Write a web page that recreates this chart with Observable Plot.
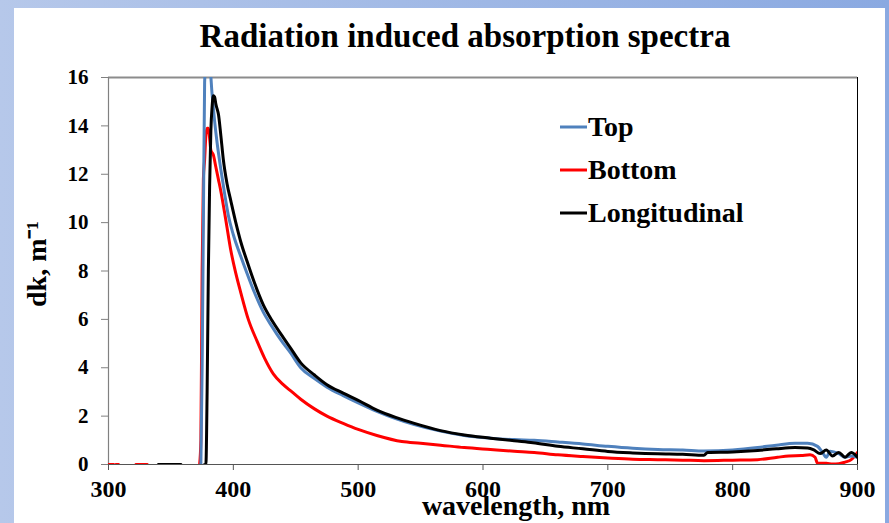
<!DOCTYPE html>
<html>
<head>
<meta charset="utf-8">
<script src="https://cdn.jsdelivr.net/npm/d3@7"></script>
<script src="https://cdn.jsdelivr.net/npm/@observablehq/plot@0.6"></script>
<style>
  html, body { margin: 0; padding: 0; }
  body { width: 889px; height: 523px; overflow: hidden; }
  #slide {
    position: relative; width: 889px; height: 523px;
    background: linear-gradient(to right, #b6c8ea, #8aa9e1);
    font-family: "Liberation Serif", "Times New Roman", serif;
    color: #000;
  }
  #panel { position: absolute; left: 14px; top: 8px; right: 4px; bottom: 0; background: #fff; }
  #title {
    position: absolute; left: 0; width: 930px; top: 18px; text-align: center;
    font-size: 33px; font-weight: bold; white-space: nowrap;
  }
  #chart { position: absolute; left: 0; top: 0; }
  #legend { position: absolute; left: 560px; top: 0; }
  .row { position: absolute; left: 0; height: 30px; display: flex; align-items: center; white-space: nowrap;
         font-size: 28px; font-weight: bold; }
  .row svg { margin-right: 1px; }
</style>
</head>
<body>
<div id="slide">
  <div id="panel"></div>
  <div id="title">Radiation induced absorption spectra</div>
  <div id="chart"></div>
  <div id="legend"></div>
</div>
<script>
// Induced absorption dk (m^-1) against wavelength (nm); null marks a gap in the record.
const topNm = [374, 375, 376, 377, 378, 381, 383, 385, 387, 390, 393, 396, 400, 406, 411, 417, 424, 431, 438, 446, 454, 465, 475, 488, 500, 515, 530, 545, 566, 585, 606, 625, 641, 660, 680, 700, 720, 740, 760, 777, 800, 820, 835, 850, 860, 868, 872, 875, 878, 885, 890, 895, 900];
const topDk = [0, 4, 10, 15.8, 16.5, 16.5, 15.3, 14.2, 13.3, 12.2, 11.2, 10.3, 9.5, 8.6, 7.9, 7.1, 6.3, 5.7, 5.15, 4.6, 4.0, 3.55, 3.2, 2.85, 2.55, 2.2, 1.9, 1.65, 1.38, 1.2, 1.09, 1.03, 1.0, 0.93, 0.85, 0.75, 0.67, 0.62, 0.6, 0.56, 0.6, 0.7, 0.8, 0.88, 0.88, 0.75, 0.5, 0.3, 0.55, 0.45, 0.3, 0.35, 0.3];

const bottomNm = [300, 304, 305, 306, 308, 309, 322, 331, 332, 373, 374, 375, 376, 377, 378, 379, 380, 381, 382, 384, 386, 388, 390, 394, 398, 402, 406, 412, 419, 425, 432, 440, 447, 454, 465, 475, 488, 500, 515, 535, 550, 566, 585, 606, 625, 641, 660, 680, 700, 720, 740, 760, 777, 800, 820, 836, 845, 855, 862, 866, 868, 875, 880, 885, 890, 895, 900];
const bottomDk = [0, 0, null, 0, 0, null, 0, 0, null, 0, 1, 8, 11.8, 12.6, 13.6, 13.9, 13.9, 13.5, 13.0, 12.8, 12.3, 11.8, 11.3, 10.1, 8.85, 7.9, 7.1, 6.0, 5.1, 4.4, 3.75, 3.3, 3.0, 2.7, 2.3, 2.0, 1.7, 1.45, 1.2, 0.95, 0.88, 0.8, 0.7, 0.62, 0.55, 0.5, 0.4, 0.33, 0.27, 0.22, 0.2, 0.18, 0.16, 0.18, 0.2, 0.3, 0.35, 0.37, 0.4, 0.3, 0.05, 0.05, 0.02, 0.03, 0.1, 0.2, 0.5];

const longNm = [340, 358, 359, 377, 378, 379, 380, 381, 382, 383, 384, 385, 386, 387, 388, 390, 392, 395, 398, 402, 406, 411, 417, 424, 431, 438, 446, 454, 465, 475, 488, 500, 515, 530, 545, 566, 585, 606, 625, 640, 660, 680, 700, 720, 740, 760, 777, 780, 800, 820, 835, 850, 860, 865, 870, 875, 880, 885, 890, 895, 900];
const longDk = [0, 0, null, 0, 0, 3, 8, 11.5, 13.8, 14.8, 15.25, 15.2, 14.9, 14.7, 14.5, 13.6, 12.6, 11.6, 10.9, 10.0, 9.2, 8.4, 7.5, 6.6, 5.95, 5.4, 4.8, 4.2, 3.7, 3.3, 2.95, 2.65, 2.25, 1.95, 1.7, 1.4, 1.22, 1.09, 0.98, 0.9, 0.75, 0.65, 0.54, 0.48, 0.44, 0.42, 0.38, 0.5, 0.52, 0.58, 0.65, 0.7, 0.68, 0.6, 0.45, 0.6, 0.35, 0.5, 0.3, 0.5, 0.3];

const seriesNames = ["Top", "Bottom", "Longitudinal"];
const seriesColors = ["#4f81bd", "#ff0000", "#000000"];
const xTicks = [300, 400, 500, 600, 700, 800, 900];
const yTicks = [0, 2, 4, 6, 8, 10, 12, 14, 16];

const toRows = (name, nm, dk) => nm.map((x, i) => ({name, x, y: dk[i]}));
const rows = [
  ...toRows("Bottom", bottomNm, bottomDk),
  ...toRows("Top", topNm, topDk),
  ...toRows("Longitudinal", longNm, longDk)
];

const font = '"Liberation Serif", "Times New Roman", serif';

const chart = Plot.plot({
  width: 889,
  height: 523,
  marginLeft: 108,
  marginRight: 32,
  marginTop: 77,
  marginBottom: 59,
  style: {background: "transparent", fontFamily: font, color: "#000", overflow: "visible"},
  x: {domain: [300, 900]},
  y: {domain: [0, 16]},
  color: {domain: seriesNames, range: seriesColors},
  marks: [
    Plot.ruleY([16], {stroke: "#8c8c8c", strokeWidth: 2}),
    Plot.ruleX([900], {stroke: "#000", strokeWidth: 1}),
    Plot.ruleX([300], {stroke: "#808080", strokeWidth: 1.2}),
    Plot.ruleY([0], {stroke: "#555", strokeWidth: 1.2}),
    Plot.line(rows, {x: "x", y: "y", z: "name", stroke: "name", strokeWidth: 3, clip: true, curve: "monotone-x"}),
    Plot.axisY({ticks: yTicks, tickSize: 7, tickPadding: 13, stroke: "#808080", fill: "#000",
      fontSize: 21, fontWeight: "bold", label: null}),
    Plot.axisX({ticks: xTicks, tickSize: 6, tickPadding: 9, stroke: "#555", fill: "#000",
      fontSize: 24, fontWeight: "bold", label: null}),
    Plot.text(["wavelength, nm"], {frameAnchor: "bottom", dx: 33, dy: 50, fontSize: 28, fontWeight: "bold", fill: "#000"}),
    Plot.text(["dk, m\u207B\u00B9"], {frameAnchor: "left", dx: -71, dy: 36, rotate: -90, fontSize: 28, fontWeight: "bold", fill: "#000"})
  ]
});
document.getElementById("chart").appendChild(chart);

// Legend: short colour swatch followed by the series name
const legend = document.getElementById("legend");
const legendY = [127, 170, 213];
seriesNames.forEach((name, i) => {
  const row = document.createElement("div");
  row.className = "row";
  row.style.top = (legendY[i] - 15) + "px";
  row.innerHTML = `<svg width="27" height="6"><line x1="0" x2="27" y1="3" y2="3" stroke="${seriesColors[i]}" stroke-width="3"/></svg><span>${name}</span>`;
  legend.appendChild(row);
});
</script>
</body>
</html>
